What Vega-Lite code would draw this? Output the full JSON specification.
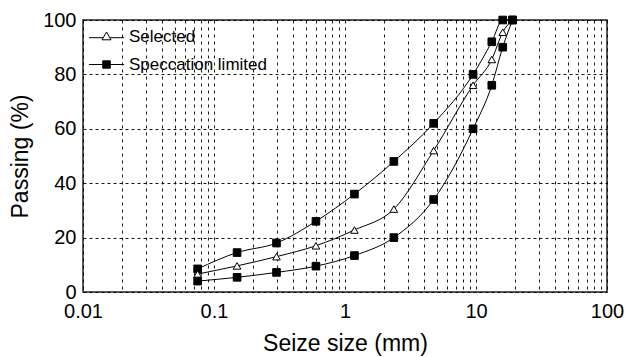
{
  "$schema": "https://vega.github.io/schema/vega-lite/v6.json",
  "autosize": "none",
  "width": 524,
  "height": 272,
  "padding": {"left": 83, "top": 20, "right": 26, "bottom": 65},
  "background": "white",
  "config": {
    "font": "Liberation Sans",
    "view": {"stroke": "#222", "strokeWidth": 1.5},
    "axis": {"labelColor": "black", "titleColor": "black", "titleFontWeight": "normal"}
  },
  "data": {
    "values": [
      {"size": 0.075, "passing": 8.5, "curve": "Upper", "type": "Speccation limited"},
      {"size": 0.15, "passing": 14.5, "curve": "Upper", "type": "Speccation limited"},
      {"size": 0.3, "passing": 18, "curve": "Upper", "type": "Speccation limited"},
      {"size": 0.6, "passing": 26, "curve": "Upper", "type": "Speccation limited"},
      {"size": 1.18, "passing": 36, "curve": "Upper", "type": "Speccation limited"},
      {"size": 2.36, "passing": 48, "curve": "Upper", "type": "Speccation limited"},
      {"size": 4.75, "passing": 62, "curve": "Upper", "type": "Speccation limited"},
      {"size": 9.5, "passing": 80, "curve": "Upper", "type": "Speccation limited"},
      {"size": 13.2, "passing": 92, "curve": "Upper", "type": "Speccation limited"},
      {"size": 16, "passing": 100, "curve": "Upper", "type": "Speccation limited"},
      {"size": 19, "passing": 100, "curve": "Upper", "type": "Speccation limited"},
      {"size": 0.075, "passing": 6.6, "curve": "Selected", "type": "Selected"},
      {"size": 0.15, "passing": 9.6, "curve": "Selected", "type": "Selected"},
      {"size": 0.3, "passing": 13, "curve": "Selected", "type": "Selected"},
      {"size": 0.6, "passing": 17, "curve": "Selected", "type": "Selected"},
      {"size": 1.18, "passing": 22.8, "curve": "Selected", "type": "Selected"},
      {"size": 2.36, "passing": 30.5, "curve": "Selected", "type": "Selected"},
      {"size": 4.75, "passing": 52, "curve": "Selected", "type": "Selected"},
      {"size": 9.5, "passing": 76, "curve": "Selected", "type": "Selected"},
      {"size": 13.2, "passing": 85.5, "curve": "Selected", "type": "Selected"},
      {"size": 16, "passing": 95.5, "curve": "Selected", "type": "Selected"},
      {"size": 19, "passing": 100, "curve": "Selected", "type": "Selected"},
      {"size": 0.075, "passing": 4, "curve": "Lower", "type": "Speccation limited"},
      {"size": 0.15, "passing": 5.4, "curve": "Lower", "type": "Speccation limited"},
      {"size": 0.3, "passing": 7.2, "curve": "Lower", "type": "Speccation limited"},
      {"size": 0.6, "passing": 9.5, "curve": "Lower", "type": "Speccation limited"},
      {"size": 1.18, "passing": 13.4, "curve": "Lower", "type": "Speccation limited"},
      {"size": 2.36, "passing": 20, "curve": "Lower", "type": "Speccation limited"},
      {"size": 4.75, "passing": 34, "curve": "Lower", "type": "Speccation limited"},
      {"size": 9.5, "passing": 60, "curve": "Lower", "type": "Speccation limited"},
      {"size": 13.2, "passing": 76, "curve": "Lower", "type": "Speccation limited"},
      {"size": 16, "passing": 90, "curve": "Lower", "type": "Speccation limited"},
      {"size": 19, "passing": 100, "curve": "Lower", "type": "Speccation limited"}
    ]
  },
  "encoding": {
    "x": {
      "field": "size",
      "type": "quantitative",
      "scale": {"type": "log", "domain": [0.01, 100], "nice": false},
      "axis": {
        "title": "Seize size (mm)",
        "titleFontSize": 23,
        "titlePadding": 11,
        "labelFontSize": 20,
        "labelPadding": 9,
        "values": [0.01, 0.02, 0.03, 0.04, 0.05, 0.06, 0.07, 0.08, 0.09, 0.1, 0.2, 0.3, 0.4, 0.5, 0.6, 0.7, 0.8, 0.9, 1, 2, 3, 4, 5, 6, 7, 8, 9, 10, 20, 30, 40, 50, 60, 70, 80, 90, 100],
        "format": "~g",
        "labelExpr": "abs(log(datum.value)/LN10 - round(log(datum.value)/LN10)) < 0.000001 ? datum.label : ''",
        "labelOverlap": false,
        "labelFlush": false,
        "domain": false,
        "ticks": false,
        "grid": true,
        "gridColor": "black",
        "gridOpacity": 0.9,
        "gridDash": [3, 4],
        "gridWidth": 1
      }
    },
    "y": {
      "field": "passing",
      "type": "quantitative",
      "scale": {"domain": [0, 100], "nice": false},
      "axis": {
        "title": "Passing (%)",
        "titleFontSize": 23,
        "titlePadding": 10,
        "labelFontSize": 20,
        "labelPadding": 7,
        "values": [0, 20, 40, 60, 80, 100],
        "domain": false,
        "ticks": false,
        "grid": true,
        "gridColor": "black",
        "gridOpacity": 0.9,
        "gridDash": [3, 3],
        "gridWidth": 1
      }
    }
  },
  "layer": [
    {
      "mark": {"type": "line", "color": "black", "strokeWidth": 1, "interpolate": "monotone"},
      "encoding": {
        "detail": {"field": "curve"},
        "order": {"field": "size", "type": "quantitative"}
      }
    },
    {
      "mark": {"type": "point", "filled": true, "stroke": "black", "strokeWidth": 1, "opacity": 1, "size": 58},
      "encoding": {
        "shape": {
          "field": "type",
          "type": "nominal",
          "scale": {"domain": ["Selected", "Speccation limited"], "range": ["triangle-up", "square"]},
          "legend": null
        },
        "fill": {
          "field": "type",
          "type": "nominal",
          "scale": {"domain": ["Selected", "Speccation limited"], "range": ["white", "black"]},
          "legend": null
        }
      }
    },
    {
      "mark": {"type": "point", "filled": false, "stroke": "black", "strokeWidth": 1, "opacity": 0, "size": 55},
      "encoding": {
        "shape": {
          "field": "type",
          "type": "nominal",
          "scale": {
            "domain": ["Selected", "Speccation limited"],
            "range": [
              "M-1.17,0.08H-0.24M0.24,0.08H1.17M-0.3,0.22L0,-0.3L0.3,0.22Z",
              "M-1.17,0H1.17M-0.25,-0.25H0.25V0.25H-0.25ZM-0.25,-0.2H0.25M-0.25,-0.133H0.25M-0.25,-0.067H0.25M-0.25,0.067H0.25M-0.25,0.133H0.25M-0.25,0.2H0.25"
            ]
          },
          "legend": {
            "title": null,
            "orient": "none",
            "legendX": 8,
            "legendY": 1,
            "symbolSize": 900,
            "symbolOpacity": 1,
            "labelFontSize": 17,
            "labelColor": "black",
            "rowPadding": 4,
            "labelOffset": 7,
            "symbolStrokeWidth": 1,
            "symbolStrokeColor": "black",
            "encode": {
              "symbols": {
                "stroke": {"value": "black"},
                "strokeWidth": {"value": 1},
                "opacity": {"value": 1}
              }
            }
          }
        }
      }
    }
  ],
  "resolve": {"scale": {"shape": "independent"}, "legend": {"shape": "independent"}}
}
